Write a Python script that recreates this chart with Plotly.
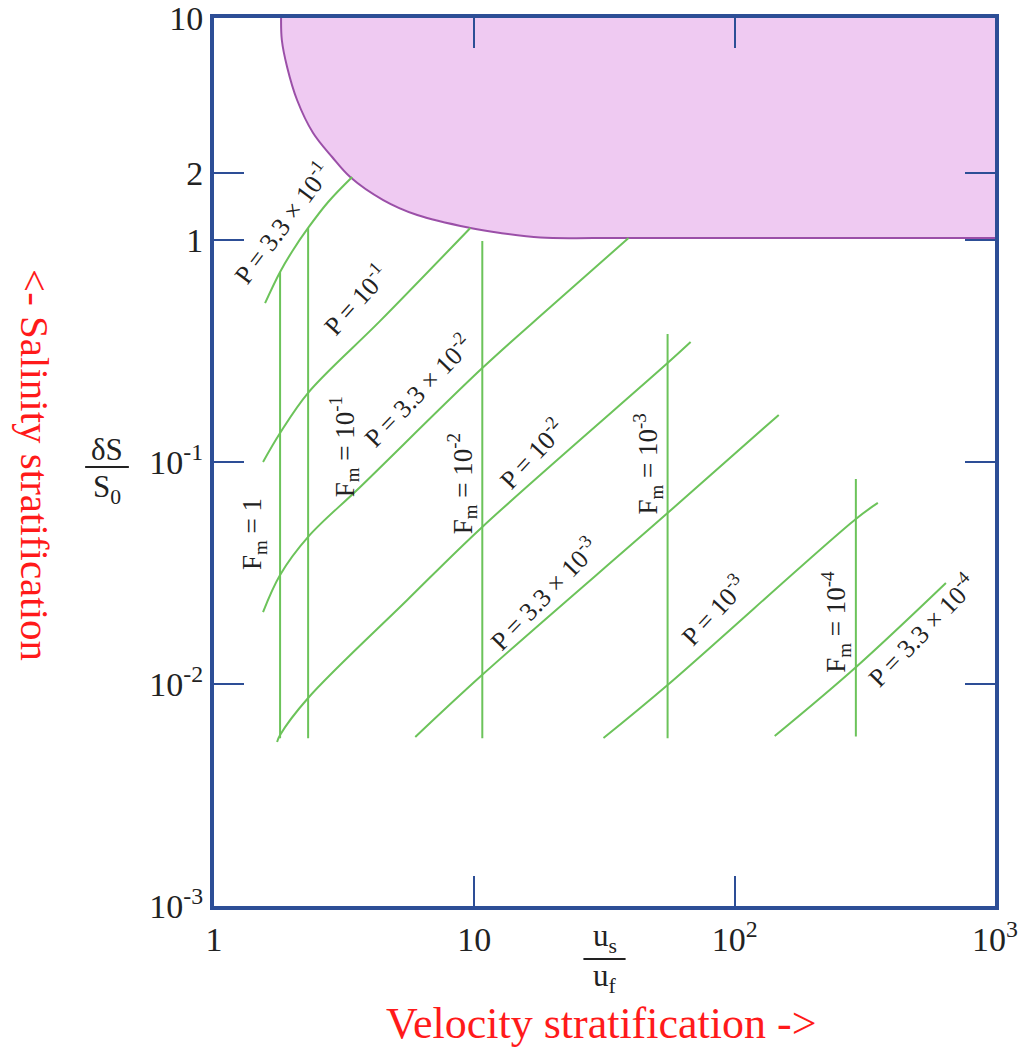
import plotly.graph_objects as go

# ---------------- data ----------------
# axis ticks
x_tickvals = [1, 10, 100, 1000]
x_ticktext = ["1", "10", "10<sup>2</sup>", "10<sup>3</sup>"]
y_tickvals = [0.001, 0.01, 0.1, 1, 2, 10]
y_ticktext = ["10<sup>-3</sup>", "10<sup>-2</sup>", "10<sup>-1</sup>", "1", "2", "10"]

# constant mixing Froude number F_m (vertical lines)
fm_labels = ["F<sub>m</sub> = 1", "F<sub>m</sub> = 10<sup>-1</sup>", "F<sub>m</sub> = 10<sup>-2</sup>",
             "F<sub>m</sub> = 10<sup>-3</sup>", "F<sub>m</sub> = 10<sup>-4</sup>"]
fm_x = [1.794, 2.299, 10.73, 55.25, 292.1]
fm_y_top = [0.718, 1.133, 0.990, 0.377, 0.0838]
fm_y_bottom = [0.0057, 0.0057, 0.0057, 0.0057, 0.0058]

# constant circulation parameter P (curves)
p_3e1_x = [1.571, 1.794, 2.013, 2.299, 2.745, 3.395]
p_3e1_y = [0.520, 0.718, 0.902, 1.133, 1.483, 1.922]
p_1e1_x = [1.543, 1.794, 2.299, 4.349, 9.652]
p_1e1_y = [0.100, 0.135, 0.205, 0.432, 1.133]
p_3e2_x = [1.543, 1.794, 2.299, 3.644, 10.73, 19.60, 39.12]
p_3e2_y = [0.0211, 0.0310, 0.0460, 0.0772, 0.265, 0.499, 1.021]
p_1e2_x = [1.747, 1.794, 2.299, 5.525, 10.73, 55.25, 67.73]
p_1e2_y = [0.00548, 0.00589, 0.00865, 0.0239, 0.0510, 0.279, 0.347]
p_3e3_x = [5.931, 10.73, 55.25, 147.7]
p_3e3_y = [0.00577, 0.0110, 0.0589, 0.163]
p_1e3_x = [31.34, 55.25, 292.1, 354.8]
p_1e3_y = [0.00571, 0.0099, 0.0554, 0.0654]
p_3e4_x = [142.5, 292.1, 647.8]
p_3e4_y = [0.00583, 0.0119, 0.0285]

# shaded upper region boundary
region_x = [1.810, 1.822, 1.909, 2.085, 2.403, 2.843, 3.335, 4.467, 6.037, 9.652, 12.59, 17.94, 30.5, 1000]
region_y = [10, 7.96, 6.016, 4.272, 3.034, 2.365, 1.922, 1.514, 1.296, 1.133, 1.075, 1.026, 1.02, 1.02]

# ---------------- styling ----------------
FRAME = "#2d4e96"
GREEN = "#6cc35a"
FILL = "#efcaf2"
EDGE = "#9b4fa8"
SERIF = "Liberation Serif"
TXT = "#222222"

fig = go.Figure()

# shaded region
fig.add_trace(go.Scatter(x=region_x + [1000, region_x[0]], y=region_y + [10, 10],
                         fill="toself", fillcolor=FILL, mode="lines",
                         line=dict(width=0, color=FILL), hoverinfo="skip"))
fig.add_trace(go.Scatter(x=region_x, y=region_y, mode="lines",
                         line=dict(color=EDGE, width=2, shape="spline"), hoverinfo="skip"))

# F_m lines
for xv, yt, yb in zip(fm_x, fm_y_top, fm_y_bottom):
    fig.add_trace(go.Scatter(x=[xv, xv], y=[yb, yt], mode="lines",
                             line=dict(color=GREEN, width=2), hoverinfo="skip"))

# P curves
for xs, ys in [(p_3e1_x, p_3e1_y), (p_1e1_x, p_1e1_y), (p_3e2_x, p_3e2_y), (p_1e2_x, p_1e2_y),
               (p_3e3_x, p_3e3_y), (p_1e3_x, p_1e3_y), (p_3e4_x, p_3e4_y)]:
    fig.add_trace(go.Scatter(x=xs, y=ys, mode="lines",
                             line=dict(color=GREEN, width=2, shape="spline"), hoverinfo="skip"))

# curve labels (positions in log10 units, as required for log axes)
p_labels = [
    ("P = 3.3 × 10<sup>-1</sup>", 0.2615, 0.0766, -53),
    ("P = 10<sup>-1</sup>", 0.5423, -0.2658, -48),
    ("P = 3.3 × 10<sup>-2</sup>", 0.7808, -0.6757, -46),
    ("P = 10<sup>-2</sup>", 1.2192, -0.9595, -47),
    ("P = 3.3 × 10<sup>-3</sup>", 1.2654, -1.5901, -46),
    ("P = 10<sup>-3</sup>", 1.9154, -1.6667, -47),
    ("P = 3.3 × 10<sup>-4</sup>", 2.7154, -1.7568, -46),
]
fm_label_pos = [(0.1538, -1.3243), (0.5000, -0.9324), (0.9538, -1.0991), (1.6654, -1.0090), (2.3885, -1.7207)]

for text, lx, ly, ang in p_labels:
    fig.add_annotation(x=lx, y=ly, xref="x", yref="y", text=text, showarrow=False,
                       xanchor="center", yanchor="middle",
                       textangle=ang, font=dict(family=SERIF, size=26, color=TXT))
for text, (lx, ly) in zip(fm_labels, fm_label_pos):
    fig.add_annotation(x=lx, y=ly, xref="x", yref="y", text=text, showarrow=False,
                       xanchor="center", yanchor="middle",
                       textangle=-90, font=dict(family=SERIF, size=27, color=TXT))

# axis fraction titles
def frac(num, den, cx, ynum, yden, ybar, half):
    for t, yy in ((num, ynum), (den, yden)):
        fig.add_annotation(x=cx, y=yy, xref="paper", yref="paper", text=t, showarrow=False,
                           xanchor="center", yanchor="middle",
                           font=dict(family=SERIF, size=31, color=TXT))
    fig.add_shape(type="line", xref="paper", yref="paper", x0=cx - half, x1=cx + half,
                  y0=ybar, y1=ybar, line=dict(color=TXT, width=2))

frac("δS", "S<sub>0</sub>", -0.137, 0.514, 0.470, 0.4944, 0.028)
frac("u<sub>s</sub>", "u<sub>f</sub>", 0.500, -0.036, -0.081, -0.0597, 0.027)

# red direction labels
fig.add_annotation(x=0.4955, y=-0.1325, xref="paper", yref="paper",
                   text="Velocity stratification ->", showarrow=False,
                   xanchor="center", yanchor="middle", borderpad=0,
                   font=dict(family=SERIF, size=44, color="#ff1a1a"))
fig.add_annotation(x=-0.2292, y=0.4966, xref="paper", yref="paper",
                   text="<- Salinity stratification", showarrow=False, textangle=90,
                   xanchor="center", yanchor="middle",
                   font=dict(family=SERIF, size=41, color="#ff1a1a"))

axis_common = dict(type="log", ticks="inside", ticklen=30, tickwidth=2, tickcolor=FRAME,
                   showline=True, linewidth=4, linecolor=FRAME, mirror="ticks",
                   showgrid=False, zeroline=False, automargin=False,
                   ticklabeloverflow="allow",
                   tickfont=dict(family=SERIF, size=34, color=TXT))
fig.update_xaxes(range=[0, 3], tickvals=x_tickvals, ticktext=x_ticktext, **axis_common)
fig.update_yaxes(range=[-3, 1], tickvals=y_tickvals, ticktext=y_ticktext, **axis_common)

fig.update_layout(width=1020, height=1050, margin=dict(l=214, r=25, t=18, b=144),
                  plot_bgcolor="white", paper_bgcolor="white", showlegend=False)

fig.write_html("out.html")
